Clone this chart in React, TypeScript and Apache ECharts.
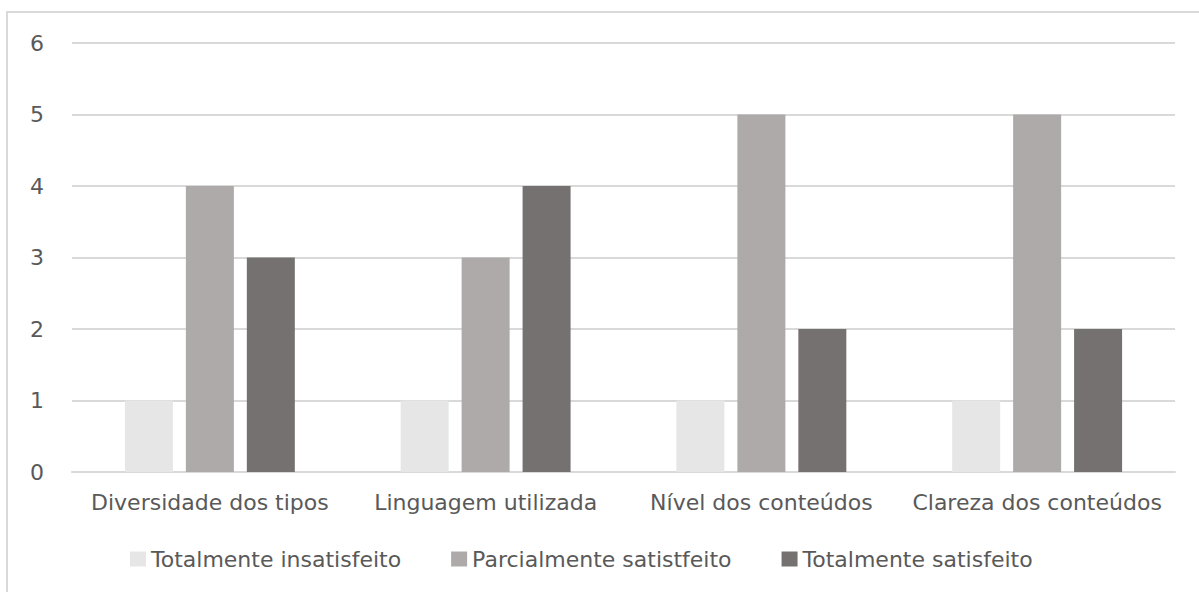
import React, { useEffect, useRef } from "react";
import * as echarts from "echarts";

const categories = [
  "Diversidade dos tipos",
  "Linguagem utilizada",
  "Nível dos conteúdos",
  "Clareza dos conteúdos",
];
const seriesNames = [
  "Totalmente insatisfeito",
  "Parcialmente satistfeito",
  "Totalmente satisfeito",
];
const totalmenteInsatisfeito = [1, 1, 1, 1];
const parcialmenteSatisfeito = [4, 3, 5, 5];
const totalmenteSatisfeito = [3, 4, 2, 2];
const yTicks = [0, 6, 1]; // min, max, interval
const colors = ["#e7e6e6", "#aeaaaa", "#767171"];

export default function App() {
  const ref = useRef<HTMLDivElement>(null);

  useEffect(() => {
    if (!ref.current) return;
    const chart = echarts.init(ref.current, null, { renderer: "svg" });
    const font = "'DejaVu Sans', sans-serif";
    const values = [totalmenteInsatisfeito, parcialmenteSatisfeito, totalmenteSatisfeito];
    chart.setOption({
      animation: false,
      color: colors,
      textStyle: { fontFamily: font },
      graphic: [
        {
          type: "rect",
          shape: { x: 7, y: 12, width: 1300, height: 700 },
          style: { fill: "none", stroke: "#d9d9d9", lineWidth: 2 },
          silent: true,
        },
      ],
      grid: { left: 72, right: 24, top: 43, bottom: 120 },
      xAxis: {
        type: "category",
        data: categories,
        axisLine: { show: true, lineStyle: { color: "#d9d9d9", width: 2 } },
        axisTick: { show: false },
        axisLabel: {
          color: "#595959",
          fontSize: 22,
          margin: 19,
          interval: 0,
          fontFamily: font,
        },
      },
      yAxis: {
        type: "value",
        min: yTicks[0],
        max: yTicks[1],
        interval: yTicks[2],
        axisLine: { show: false },
        axisTick: { show: false },
        splitLine: { lineStyle: { color: "#d9d9d9", width: 2 } },
        axisLabel: { color: "#595959", fontSize: 22, margin: 28, fontFamily: font },
      },
      legend: {
        top: 543,
        left: 125,
        itemWidth: 16,
        itemHeight: 15,
        itemGap: 50,
        icon: "rect",
        textStyle: { color: "#595959", fontSize: 22, fontFamily: font },
        data: seriesNames,
      },
      series: seriesNames.map((name, i) => ({
        name,
        type: "bar",
        data: values[i],
        barWidth: 48,
        barGap: "27%",
        itemStyle: { color: colors[i] },
      })),
    });
    return () => chart.dispose();
  }, []);

  return (
    <div
      ref={ref}
      style={{ position: "absolute", left: 0, top: 0, width: 1199, height: 592 }}
    />
  );
}
